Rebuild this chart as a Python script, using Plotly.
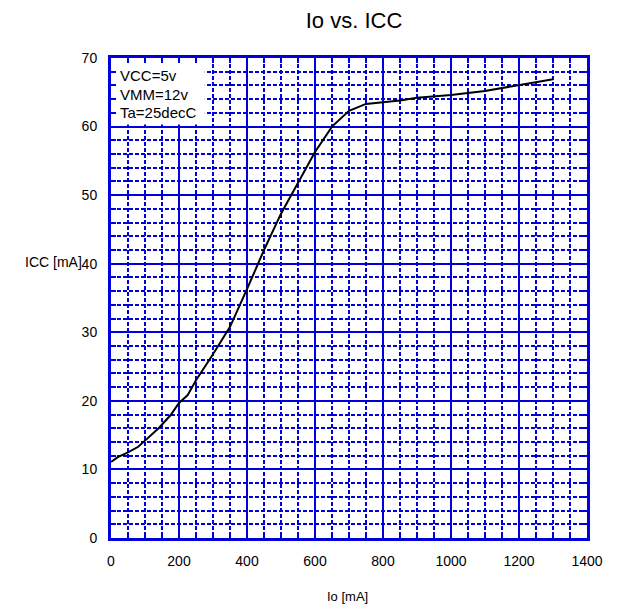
import plotly.graph_objects as go

io_ma = [0, 20, 50, 80, 100, 140, 175, 200, 225, 250, 300, 350, 400, 450, 500,
         550, 600, 650, 700, 750, 850, 900, 1000, 1100, 1200, 1300]
icc_ma = [11.1, 11.8, 12.5, 13.3, 14.2, 16.0, 17.9, 19.7, 20.8, 23.0, 26.8, 30.8,
          36.3, 42.0, 47.3, 51.8, 56.3, 60.0, 62.3, 63.3, 63.8, 64.2, 64.6, 65.2,
          66.0, 66.9]
notes = ["VCC=5v", "VMM=12v", "Ta=25decC"]
title = "Io vs. ICC"
x_title = "Io [mA]"
y_title = "ICC [mA]"

BLUE = "rgb(0,0,220)"
FONT = "Liberation Sans, Arial, sans-serif"

fig = go.Figure()
fig.add_trace(go.Scatter(x=io_ma, y=icc_ma, mode="lines",
                         line=dict(color="black", width=2), showlegend=False))

axis_common = dict(
    showgrid=True, gridcolor=BLUE, gridwidth=2,
    showline=True, linecolor=BLUE, linewidth=3, mirror="allticks",
    ticks="inside", ticklen=5, tickwidth=1.5, tickcolor=BLUE,
    zeroline=False, layer="above traces",
    tickfont=dict(family=FONT, size=14, color="black"),
)

fig.update_xaxes(range=[0, 1400], dtick=200, tick0=0,
                 minor=dict(dtick=50, showgrid=True, gridcolor=BLUE, gridwidth=1.5,
                            griddash="4px,2px", ticks="inside", ticklen=5,
                            tickcolor=BLUE, tickwidth=1.5),
                 ticklabelstandoff=8, **axis_common)
fig.update_yaxes(range=[0, 70], dtick=10, tick0=0,
                 minor=dict(dtick=2, showgrid=True, gridcolor=BLUE, gridwidth=1.5,
                            griddash="4px,2px", ticks="inside", ticklen=5,
                            tickcolor=BLUE, tickwidth=1.5),
                 ticklabelstandoff=8, **axis_common)

# white note box covering grid in the upper-left corner
fig.add_shape(type="rect", xref="x", yref="y", x0=0, x1=276, y0=60.3, y1=70,
              fillcolor="white", line=dict(width=0), layer="between")

for i, t in enumerate(notes):
    fig.add_annotation(xref="paper", yref="paper", x=0.015, y=0.9625 - i * 0.0385,
                       text=t, showarrow=False, xanchor="left", yanchor="middle",
                       font=dict(family=FONT, size=15, color="black"))

fig.add_annotation(xref="paper", yref="paper", x=-0.057, y=0.575, text=y_title,
                   showarrow=False, xanchor="right", yanchor="middle",
                   font=dict(family=FONT, size=14, color="black"))
fig.add_annotation(xref="paper", yref="paper", x=0.497, y=-0.121, text=x_title,
                   showarrow=False, xanchor="center", yanchor="middle",
                   font=dict(family=FONT, size=13, color="black"))

fig.update_layout(
    width=619, height=612,
    margin=dict(l=103, r=40, t=50, b=82),
    paper_bgcolor="white", plot_bgcolor="white",
    title=dict(text=title, x=0.559, xanchor="center", y=0.98, yanchor="middle",
               font=dict(family=FONT, size=22, color="black")),
    font=dict(family=FONT),
)

fig.write_html("out.html")
